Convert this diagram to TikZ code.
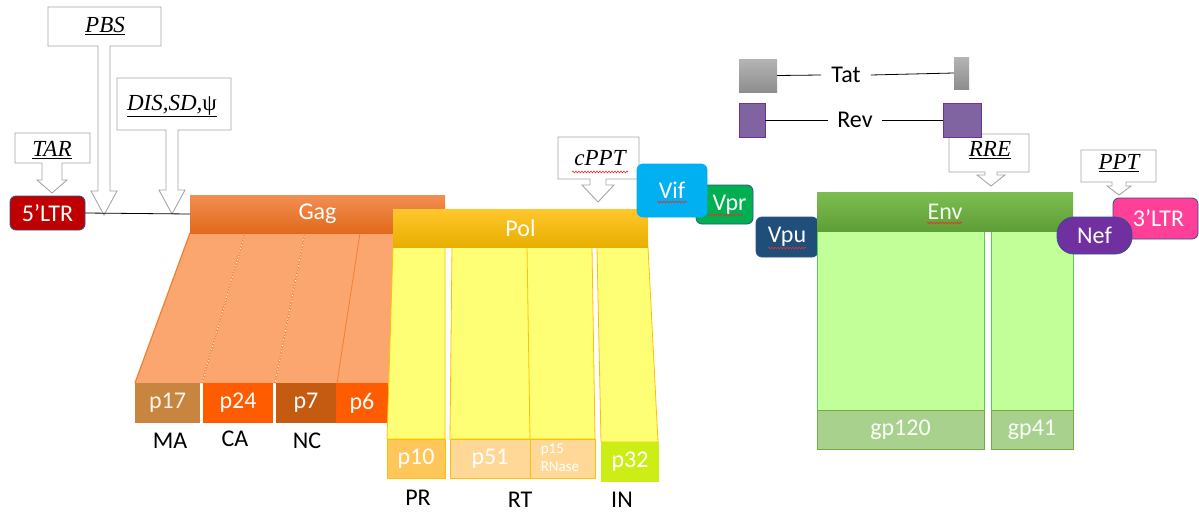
\documentclass[tikz,border=0pt]{standalone}
\usepackage{fontspec}
\setmainfont{Carlito}
\newfontfamily\cam{Liberation Serif}
\usetikzlibrary{decorations.pathmorphing}
\definecolor{ltrred}{HTML}{C00000}
\definecolor{bord}{HTML}{2F528F}
\definecolor{gagtop}{HTML}{F28E52}
\definecolor{gagbot}{HTML}{E2691B}
\definecolor{gagbody}{HTML}{FBA66E}
\definecolor{gagline}{HTML}{F07F35}
\definecolor{cp17}{HTML}{C8853F}
\definecolor{cp24}{HTML}{FF5C00}
\definecolor{cp7}{HTML}{C55A11}
\definecolor{poltop}{HTML}{FFC72C}
\definecolor{polbot}{HTML}{E8AE00}
\definecolor{polbody}{HTML}{FFFF75}
\definecolor{gold}{HTML}{FFC000}
\definecolor{cp10}{HTML}{FFC65A}
\definecolor{cp51}{HTML}{FFD898}
\definecolor{cp32}{HTML}{CCEE15}
\definecolor{vifc}{HTML}{00B0F0}
\definecolor{vprc}{HTML}{00B050}
\definecolor{vpuc}{HTML}{1F4E79}
\definecolor{graytop}{HTML}{B4B4B4}
\definecolor{graybot}{HTML}{8E8E8E}
\definecolor{revc}{HTML}{8064A2}
\definecolor{revb}{HTML}{7030A0}
\definecolor{envtop}{HTML}{7DBE52}
\definecolor{envbot}{HTML}{5E9E36}
\definecolor{envbody}{HTML}{C2FF99}
\definecolor{envline}{HTML}{5CC85C}
\definecolor{gpc}{HTML}{A9D18E}
\definecolor{gpb}{HTML}{70AD47}
\definecolor{nefc}{HTML}{7030A0}
\definecolor{ltrpink}{HTML}{FF3F98}
\definecolor{callb}{HTML}{A6A6A6}
\definecolor{wavy}{HTML}{E03030}
\tikzset{
  sans/.style={font=\fontsize{24}{28}\selectfont},
  lbl/.style={sans, inner sep=0pt},
  blk/.style={anchor=north west, inner sep=0pt, outer sep=0pt, sans},
  rbox/.style={blk, rounded corners=6pt, draw=bord, line width=0.8pt, text=white},
  callout/.style={draw=callb, fill=white, line width=0.9pt},
  ctext/.style={font=\cam\itshape\fontsize{23}{27}\selectfont, inner sep=0pt},
  squig/.style={draw=wavy, line width=0.6pt, decorate, decoration={snake, amplitude=0.9pt, segment length=3pt}},
  gagedge/.style={draw=gagline, line width=1.2pt},
  poledge/.style={draw=gold, line width=0.8pt},
  envedge/.style={draw=envline, line width=0.8pt},
}
\newcommand\callout[9]{\draw[callout] (#1,#2) -- (#3,#2) -- (#3,#4) -- ({#5+#8},#4) -- ({#5+#8},#7) -- ({#5+#9},#7) -- (#5,#6) -- ({#5-#9},#7) -- ({#5-#8},#7) -- ({#5-#8},#4) -- (#1,#4) -- cycle;}
\begin{document}
\begin{tikzpicture}[x=1pt,y=-1pt]
\useasboundingbox[fill=white] (0,0) rectangle (1199,514);

% ---- callouts, left part
\callout{48}{7}{161}{46}{104}{215}{191}{6}{13}
\node[ctext] (pbs) at (105,26) {\underline{PBS}};
\callout{117}{78}{231}{130}{172}{214}{190}{6}{13}
\node[ctext] (dis) at (172,106) {\underline{DIS,SD,{\upshape ψ}}};
\callout{15}{133}{90}{163}{52}{193}{180}{10}{15}
\node[ctext] (tar) at (52,150) {\underline{TAR}};

% ---- Gag body
\fill[gagbody] (190,233) -- (396,233) -- (391,383) -- (135,383) -- cycle;
\draw[gagedge] (190,233) -- (135,383);
\draw[gagedge] (245,233) -- (202,383);
\draw[white, line width=0.6pt, dash pattern=on 1.5pt off 1.5pt] (245,233) -- (202,383);
\draw[gagedge] (305,233) -- (275,383);
\draw[white, line width=0.6pt, dash pattern=on 1.5pt off 1.5pt] (305,233) -- (275,383);
\draw[draw=gagline, line width=0.8pt] (360,233) -- (337,383);

% ---- 5'LTR and Gag bar
\node[rbox, fill=ltrred, minimum width=75pt, minimum height=34pt] (ltr5) at (10,196) {5’LTR};
\node[blk, top color=gagtop, bottom color=gagbot, minimum width=255pt, minimum height=38pt, text=white] (gagbar) at (190,195) {Gag};
\draw[line width=0.8pt] (ltr5.east) -- (gagbar.west);

% ---- Gag products
\node[blk, fill=cp17, minimum width=65pt, minimum height=40pt, text=white!92!cp17] (p17) at (135,383) {p17};
\node[blk, fill=cp24, minimum width=70pt, minimum height=40pt, text=white] (p24) at (203,383) {p24};
\node[blk, fill=cp7, minimum width=60pt, minimum height=40pt, text=white] (p7) at (276,383) {p7};
\node[blk, fill=cp24, minimum width=52pt, minimum height=40pt, text=white] (p6) at (336,383) {p6};
\node[lbl] (ma) at (170,441) {MA};
\node[lbl] (ca) at (235,439) {CA};
\node[lbl] (nc) at (307,441) {NC};

% ---- Pol body
\filldraw[fill=polbody, poledge] (393,247) -- (445,247) -- (445,439) -- (387,439) -- cycle;
\filldraw[fill=polbody, poledge] (452,247) -- (592,247) -- (595,439) -- (450,439) -- cycle;
\draw[poledge] (527,247) -- (530,439);
\filldraw[fill=polbody, poledge] (597,247) -- (648,247) -- (658,442) -- (601,442) -- cycle;
\node[blk, top color=poltop, bottom color=polbot, minimum width=255pt, minimum height=38pt, text=white] (polbar) at (393,209) {Pol};

% ---- Pol products
\node[blk, fill=cp10, draw=gold, line width=0.8pt, minimum width=58pt, minimum height=39pt, text=white] (p10) at (387,439) {p10};
\node[blk, fill=cp51, draw=gold, line width=0.8pt, minimum width=80pt, minimum height=39pt, text=white] (p51) at (450,439) {p51};
\node[blk, fill=cp51, draw=gold, line width=0.8pt, minimum width=65pt, minimum height=39pt] (p15box) at (530,439) {};
\node[inner sep=0pt, align=left, text=white, font=\fontsize{15}{18}\selectfont] (p15) at (560,458) {p15\\RNase};
\node[blk, fill=cp32, minimum width=58pt, minimum height=40pt, text=white] (p32) at (601,442) {p32};
\node[lbl] (pr) at (418,498) {PR};
\node[lbl] (rt) at (520,500) {RT};
\node[lbl] (in) at (622,500) {IN};

% ---- cPPT
\callout{558}{137}{639}{179}{598}{202}{185}{8}{16}
\node[ctext] (cppt) at (600,158) {cPPT};
\draw[squig] (572,172) -- (628,172);

% ---- accessory
\node[rbox, fill=vprc, minimum width=57pt, minimum height=39pt] (vpr) at (696,185) {\hspace*{10pt}Vpr};
\node[rbox, fill=vifc, draw=vifc, minimum width=70pt, minimum height=53pt] (vif) at (637,164) {Vif};
\node[rbox, fill=vpuc, minimum width=62pt, minimum height=40pt] (vpu) at (756,217) {Vpu};
\draw[squig] (657,202) -- (687,202);
\draw[squig] (708,215) -- (742,215);
\draw[squig] (768,248) -- (806,248);

% ---- Tat / Rev
\callout{949}{134}{1029}{172}{991}{186}{175}{6}{14}
\node[ctext] (rre) at (990,150) {\underline{RRE}};
\node[blk, top color=graytop, bottom color=graybot, minimum width=38pt, minimum height=33pt] (tatL) at (739,59) {};
\node[blk, top color=graytop, bottom color=graybot, minimum width=15pt, minimum height=32pt] (tatR) at (954,57) {};
\node[sans, inner xsep=10pt, inner ysep=0pt] (tat) at (846,75) {Tat};
\draw[line width=0.8pt] (tatL.east) -- (tat.west);
\draw[line width=0.8pt] (tat.east) -- (tatR.west);
\node[blk, fill=revc, draw=revb, line width=1pt, minimum width=26pt, minimum height=34pt] (revL) at (739,103) {};
\node[blk, fill=revc, draw=revb, line width=1pt, minimum width=38pt, minimum height=34pt] (revR) at (943,103) {};
\node[sans, inner xsep=9pt, inner ysep=0pt] (rev) at (855,120) {Rev};
\draw[line width=0.8pt] (revL.east) -- (rev.west);
\draw[line width=0.8pt] (rev.east) -- (revR.west);

% ---- Env
\filldraw[fill=envbody, envedge] (817,231) rectangle (984,410);
\filldraw[fill=envbody, envedge] (991,231) rectangle (1073,410);
\node[blk, top color=envtop, bottom color=envbot, minimum width=256pt, minimum height=39pt, text=white!92!envtop] (envbar) at (817,192) {Env};
\draw[squig] (927,223) -- (962,223);
\node[blk, fill=gpc, draw=gpb, line width=0.8pt, minimum width=167pt, minimum height=39pt, text=white!94!gpc] (gp120) at (817,410) {gp120};
\node[blk, fill=gpc, draw=gpb, line width=0.8pt, minimum width=82pt, minimum height=39pt, text=white!94!gpc] (gp41) at (991,410) {gp41};

% ---- 3' end
\callout{1081}{150}{1156}{182}{1119}{195}{186}{7}{12}
\node[ctext] (ppt) at (1119,163) {\underline{PPT}};
\node[rbox, fill=ltrpink, minimum width=85pt, minimum height=41pt] (ltr3) at (1113,198) {\hspace*{6pt}3’LTR};
\node[rbox, fill=nefc, rounded corners=17pt, minimum width=75pt, minimum height=37pt] (nef) at (1057,217) {Nef};
\end{tikzpicture}
\end{document}
